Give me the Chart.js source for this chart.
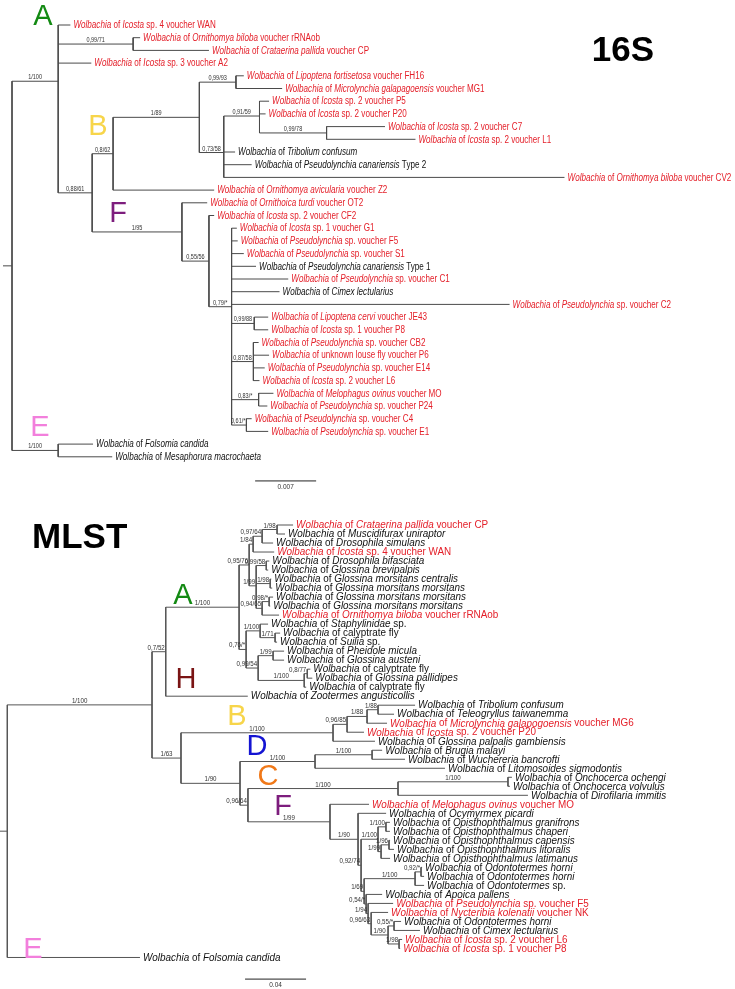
<!DOCTYPE html>
<html>
<head>
<meta charset="utf-8">
<script src="https://cdn.jsdelivr.net/npm/chart.js@4.4.1/dist/chart.umd.min.js"></script>
<style>
  html, body { margin: 0; padding: 0; background: #fff; }
  .panel { position: absolute; left: 0; width: 735px; }
</style>
</head>
<body>
<div class="panel" style="top:0;height:495px"><canvas id="c16" width="735" height="495"></canvas></div>
<div class="panel" style="top:495px;height:494px"><canvas id="cMlst" width="735" height="494"></canvas></div>
<script>
// ---- 16S tree: internal nodes [name, parent, branch length, support]
const nodes16S = [
  ['root', null, 0, ''],
  ['A', 'root', 0.0053, '1/100'],
  ['Aob', 'A', 0.0086, '0,99/71'],
  ['BF', 'A', 0.0039, '0,88/61'],
  ['B', 'BF', 0.0024, '0,8/62'],
  ['B1', 'B', 0.0099, '1/89'],
  ['B2', 'B1', 0.0042, '0,99/93'],
  ['B3', 'B1', 0.0028, '0,73/58'],
  ['B4', 'B3', 0.0041, '0,91/59'],
  ['B5', 'B4', 0.0077, '0,99/78'],
  ['F', 'BF', 0.0103, '1/95'],
  ['F1', 'F', 0.0031, '0,55/56'],
  ['F2', 'F1', 0.0026, '0,79/*'],
  ['F3', 'F2', 0.0026, '0,99/88'],
  ['F4', 'F2', 0.0025, '0,87/58'],
  ['F5', 'F2', 0.0031, '0,83/*'],
  ['F6', 'F2', 0.0017, '0,61/*'],
  ['E', 'root', 0.0053, '1/100']
];
// tips [label (*italic*), parent, branch length, new sequence]
const tips16S = [
  ['*Wolbachia* of *Icosta* sp. 4 voucher WAN', 'A', 0.0014, 1],
  ['*Wolbachia* of *Ornithomya biloba* voucher rRNAob', 'Aob', 0.0008, 1],
  ['*Wolbachia* of *Crataerina pallida* voucher CP', 'Aob', 0.0087, 1],
  ['*Wolbachia* of *Icosta* sp. 3 voucher A2', 'A', 0.0038, 1],
  ['*Wolbachia* of *Lipoptena fortisetosa* voucher FH16', 'B2', 0.0009, 1],
  ['*Wolbachia* of *Microlynchia galapagoensis* voucher MG1', 'B2', 0.0053, 1],
  ['*Wolbachia* of *Icosta* sp. 2 voucher P5', 'B4', 0.0011, 1],
  ['*Wolbachia* of *Icosta* sp. 2 voucher P20', 'B4', 0.0007, 1],
  ['*Wolbachia* of *Icosta* sp. 2 voucher C7', 'B5', 0.0067, 1],
  ['*Wolbachia* of *Icosta* sp. 2 voucher L1', 'B5', 0.0102, 1],
  ['*Wolbachia* of *Tribolium confusum*', 'B3', 0.0013, 0],
  ['*Wolbachia* of *Pseudolynchia canariensis* Type 2', 'B3', 0.0032, 0],
  ['*Wolbachia* of *Ornithomya biloba* voucher CV2', 'B3', 0.0391, 1],
  ['*Wolbachia* of *Ornithomya avicularia* voucher Z2', 'B', 0.0116, 1],
  ['*Wolbachia* of *Ornithoica turdi* voucher OT2', 'F', 0.0029, 1],
  ['*Wolbachia* of *Icosta* sp. 2 voucher CF2', 'F1', 0.0006, 1],
  ['*Wolbachia* of *Icosta* sp. 1 voucher G1', 'F2', 0.0006, 1],
  ['*Wolbachia* of *Pseudolynchia* sp. voucher F5', 'F2', 0.0007, 1],
  ['*Wolbachia* of *Pseudolynchia* sp. voucher S1', 'F2', 0.0014, 1],
  ['*Wolbachia* of *Pseudolynchia canariensis* Type 1', 'F2', 0.0028, 0],
  ['*Wolbachia* of *Pseudolynchia* sp. voucher C1', 'F2', 0.0065, 1],
  ['*Wolbachia* of *Cimex lectularius*', 'F2', 0.0055, 0],
  ['*Wolbachia* of *Pseudolynchia* sp. voucher C2', 'F2', 0.0319, 1],
  ['*Wolbachia* of *Lipoptena cervi* voucher JE43', 'F3', 0.0016, 1],
  ['*Wolbachia* of *Icosta* sp. 1 voucher P8', 'F3', 0.0016, 1],
  ['*Wolbachia* of *Pseudolynchia* sp. voucher CB2', 'F4', 0.0006, 1],
  ['*Wolbachia* of unknown louse fly voucher P6', 'F4', 0.0018, 1],
  ['*Wolbachia* of *Pseudolynchia* sp. voucher E14', 'F4', 0.0013, 1],
  ['*Wolbachia* of *Icosta* sp. 2 voucher L6', 'F4', 0.0007, 1],
  ['*Wolbachia* of *Melophagus ovinus* voucher MO', 'F5', 0.0017, 1],
  ['*Wolbachia* of *Pseudolynchia* sp. voucher P24', 'F5', 0.0010, 1],
  ['*Wolbachia* of *Pseudolynchia* sp. voucher C4', 'F6', 0.0006, 1],
  ['*Wolbachia* of *Pseudolynchia* sp. voucher E1', 'F6', 0.0025, 1],
  ['*Wolbachia* of *Folsomia candida*', 'E', 0.0040, 0],
  ['*Wolbachia* of *Mesaphorura macrochaeta*', 'E', 0.0062, 0]
];
const clades16S = [['A', '#138a13'], ['B', '#f7d54a'], ['F', '#7d1d7d'], ['E', '#f27fdc']];
const scaleBar16S = [0.007, '0.007'];

// ---- MLST tree
const nodesMlst = [
  ['root', null, 0, ''],
  ['X1', 'root', 0.0949, '1/100'],
  ['AH', 'X1', 0.0090, '0,7/52'],
  ['A', 'AH', 0.0481, '1/100'],
  ['A1', 'A', 0.0066, '0,95/76'],
  ['J', 'A1', 0.0026, '1/84'],
  ['I', 'J', 0.0059, '0,97/64'],
  ['H', 'I', 0.0098, '1/98'],
  ['N', 'A1', 0.0046, '1/99'],
  ['K', 'N', 0.0066, '0,99/58'],
  ['M1', 'N', 0.0092, '1/98'],
  ['Q', 'N', 0.0039, '0,94/65'],
  ['M2', 'Q', 0.0046, '0,98/*'],
  ['A2', 'A', 0.0046, '0,76/*'],
  ['St', 'A2', 0.0092, '1/100'],
  ['St1', 'St', 0.0098, '1/71'],
  ['Ps', 'A2', 0.0079, '0,99/54'],
  ['Ph', 'Ps', 0.0098, '1/99'],
  ['Ca', 'Ps', 0.0302, '1/100'],
  ['Ca1', 'Ca', 0.0020, '0,8/77'],
  ['BDCF', 'X1', 0.0190, '1/63'],
  ['B', 'BDCF', 0.0997, '1/100'],
  ['B1', 'B', 0.0092, '0,96/85'],
  ['B2', 'B1', 0.0131, '1/88'],
  ['B3', 'B2', 0.0072, '1/88'],
  ['DCF', 'BDCF', 0.0387, '1/90'],
  ['D', 'DCF', 0.0492, '1/100'],
  ['D1', 'D', 0.0374, '1/100'],
  ['CF', 'DCF', 0.0052, '0,96/64'],
  ['C', 'CF', 0.0984, '1/100'],
  ['C1', 'C', 0.0721, '1/100'],
  ['F', 'CF', 0.0538, '1/99'],
  ['F1', 'F', 0.0184, '1/90'],
  ['F2', 'F1', 0.0020, '0,92/74'],
  ['O', 'F2', 0.0111, '1/100'],
  ['O1', 'O', 0.0052, '1/100'],
  ['Q2', 'O', 0.0020, '1/99'],
  ['P', 'Q2', 0.0052, '1/96'],
  ['T', 'F2', 0.0020, '1/69'],
  ['R', 'T', 0.0334, '1/100'],
  ['S', 'R', 0.0039, '0,92/*'],
  ['Fa', 'T', 0.0013, '0,54/*'],
  ['Fe', 'Fa', 0.0013, '1/94'],
  ['Fd', 'Fe', 0.0020, '0,96/63'],
  ['Fc', 'Fd', 0.0111, '1/90'],
  ['Fh', 'Fc', 0.0039, '0,55/*'],
  ['Fb', 'Fc', 0.0072, '1/98']
];
const tipsMlst = [
  ['*Wolbachia* of *Crataerina pallida* voucher CP', 'H', 0.0105, 1],
  ['*Wolbachia* of *Muscidifurax uniraptor*', 'H', 0.0052, 0],
  ['*Wolbachia* of *Drosophila simulans*', 'I', 0.0072, 0],
  ['*Wolbachia* of *Icosta* sp. 4 voucher WAN', 'J', 0.0138, 1],
  ['*Wolbachia* of *Drosophila bifasciata*', 'K', 0.0020, 0],
  ['*Wolbachia* of *Glossina brevipalpis*', 'K', 0.0013, 0],
  ['*Wolbachia* of *Glossina morsitans centralis*', 'M1', 0.0007, 0],
  ['*Wolbachia* of *Glossina morsitans morsitans*', 'M1', 0.0013, 0],
  ['*Wolbachia* of *Glossina morsitans morsitans*', 'M2', 0.0026, 0],
  ['*Wolbachia* of *Glossina morsitans morsitans*', 'M2', 0.0007, 0],
  ['*Wolbachia* of *Ornithomya biloba* voucher rRNAob', 'Q', 0.0111, 1],
  ['*Wolbachia* of *Staphylinidae* sp.', 'St', 0.0052, 0],
  ['*Wolbachia* of calyptrate fly', 'St1', 0.0033, 0],
  ['*Wolbachia* of *Suilia* sp.', 'St1', 0.0013, 0],
  ['*Wolbachia* of *Pheidole micula*', 'Ph', 0.0072, 0],
  ['*Wolbachia* of *Glossina austeni*', 'Ph', 0.0072, 0],
  ['*Wolbachia* of calyptrate fly', 'Ca1', 0.0020, 0],
  ['*Wolbachia* of *Glossina pallidipes*', 'Ca1', 0.0033, 0],
  ['*Wolbachia* of calyptrate fly', 'Ca', 0.0013, 0],
  ['*Wolbachia* of *Zootermes angusticollis*', 'AH', 0.0538, 0],
  ['*Wolbachia* of *Tribolium confusum*', 'B3', 0.0243, 0],
  ['*Wolbachia* of *Teleogryllus taiwanemma*', 'B3', 0.0105, 0],
  ['*Wolbachia* of *Microlynchia galapogoensis* voucher MG6', 'B2', 0.0131, 1],
  ['*Wolbachia* of *Icosta* sp. 2 voucher P20', 'B1', 0.0111, 1],
  ['*Wolbachia* of *Glossina palpalis gambiensis*', 'B', 0.0275, 0],
  ['*Wolbachia* of *Brugia malayi*', 'D1', 0.0066, 0],
  ['*Wolbachia* of *Wuchereria bancrofti*', 'D1', 0.0216, 0],
  ['*Wolbachia* of *Litomosoides sigmodontis*', 'D', 0.0852, 0],
  ['*Wolbachia* of *Onchocerca ochengi*', 'C1', 0.0026, 0],
  ['*Wolbachia* of *Onchocerca volvulus*', 'C1', 0.0013, 0],
  ['*Wolbachia* of *Dirofilaria immitis*', 'C', 0.0852, 0],
  ['*Wolbachia* of *Melophagus ovinus* voucher MO', 'F', 0.0256, 1],
  ['*Wolbachia* of *Ocymyrmex picardi*', 'F1', 0.0184, 0],
  ['*Wolbachia* of *Opisthophthalmus granifrons*', 'O1', 0.0026, 0],
  ['*Wolbachia* of *Opisthophthalmus chaperi*', 'O1', 0.0026, 0],
  ['*Wolbachia* of *Opisthophthalmus capensis*', 'P', 0.0007, 0],
  ['*Wolbachia* of *Opisthophthalmus litoralis*', 'P', 0.0033, 0],
  ['*Wolbachia* of *Opisthophthalmus latimanus*', 'Q2', 0.0059, 0],
  ['*Wolbachia* of *Odontotermes horni*', 'S', 0.0007, 0],
  ['*Wolbachia* of *Odontotermes horni*', 'S', 0.0020, 0],
  ['*Wolbachia* of *Odontotermes* sp.', 'R', 0.0059, 0],
  ['*Wolbachia* of *Apoica pallens*', 'Fa', 0.0105, 0],
  ['*Wolbachia* of *Pseudolynchia* sp. voucher F5', 'Fe', 0.0164, 1],
  ['*Wolbachia* of *Nycteribia kolenatii* voucher NK', 'Fd', 0.0111, 1],
  ['*Wolbachia* of *Odontotermes horni*', 'Fh', 0.0046, 0],
  ['*Wolbachia* of *Cimex lectularius*', 'Fh', 0.0170, 0],
  ['*Wolbachia* of *Icosta* sp. 2 voucher L6', 'Fb', 0.0020, 1],
  ['*Wolbachia* of *Icosta* sp. 1 voucher P8', 'Fb', 0.0007, 1],
  ['*Wolbachia* of *Folsomia candida*', 'root', 0.0870, 0]
];
const cladesMlst = [['A', '#138a13'], ['H', '#7a1414'], ['B', '#f7d54a'], ['D', '#1414d2'],
                    ['C', '#f07818'], ['F', '#7d1d7d'], ['E', '#f27fdc']];
const scaleBarMlst = [0.04, '0.04'];

const RED = '#e4202a';
const FONT = '"Liberation Sans", Arial, Helvetica, sans-serif';

// ---- tree layout: x = distance from root, y = tip index (internal node = mean of children)
function layoutTree(nodes, tips) {
  const info = {};
  nodes.forEach(([name, parent, len, sup]) => { info[name] = { name, parent, len, sup, kids: [] }; });
  nodes.forEach(([name, parent]) => { if (parent) info[parent].kids.push(info[name]); });
  nodes.forEach(([name, parent, len]) => { info[name].x = parent ? info[parent].x + len : 0; });
  const tipList = tips.map(([label, parent, len, isNew], i) => {
    const t = { label, parent, isNew, y: i, x: info[parent].x + len, tip: true };
    info[parent].kids.push(t);
    return t;
  });
  function yOf(n) {
    if (n.y === undefined) {
      const ys = n.kids.map(yOf);
      n.y = ys.reduce((a, b) => a + b, 0) / ys.length;
    }
    return n.y;
  }
  yOf(info.root);
  const segs = [];
  const add = (x1, y1, x2, y2) => segs.push({ x: x1, y: y1 }, { x: x2, y: y2 }, { x: NaN, y: NaN });
  Object.values(info).forEach(n => {
    const ys = n.kids.map(k => k.y);
    add(n.x, Math.min(...ys), n.x, Math.max(...ys));
    if (n.parent) add(info[n.parent].x, n.y, n.x, n.y);
  });
  tipList.forEach(t => add(info[t.parent].x, t.y, t.x, t.y));
  return { info, tips: tipList, segs };
}

function drawRich(ctx, text, x, y, size, sx, color) {
  ctx.save();
  ctx.translate(x, y);
  ctx.scale(sx, 1);
  ctx.fillStyle = color;
  ctx.textBaseline = 'middle';
  ctx.textAlign = 'left';
  let cx = 0;
  text.split('*').forEach((part, i) => {
    if (!part) return;
    ctx.font = (i % 2 ? 'italic ' : '') + size + 'px ' + FONT;
    ctx.fillText(part, cx, 0);
    cx += ctx.measureText(part).width;
  });
  ctx.restore();
}

const treeText = {
  id: 'treeText',
  afterDatasetsDraw(chart, args, o) {
    const { ctx } = chart;
    const xs = chart.scales.x, ys = chart.scales.y;
    const tree = o.tree;
    tree.tips.forEach(t => {
      drawRich(ctx, t.label, xs.getPixelForValue(t.x) + 3, ys.getPixelForValue(t.y) + 0.5,
        o.tipSize, o.tipStretch, t.isNew ? RED : '#111');
    });
    // support values above the branches
    ctx.fillStyle = '#333';
    ctx.textBaseline = 'alphabetic';
    ctx.textAlign = 'center';
    Object.values(tree.info).forEach(n => {
      if (!n.parent || !n.sup) return;
      const x0 = xs.getPixelForValue(tree.info[n.parent].x), x1 = xs.getPixelForValue(n.x);
      ctx.save();
      ctx.font = o.supSize + 'px ' + FONT;
      const w = ctx.measureText(n.sup).width * o.supStretch;
      let cx = (x0 + x1) / 2;
      if (cx + w / 2 > x1 - 1) cx = x1 - 1 - w / 2;
      ctx.translate(cx, ys.getPixelForValue(n.y) - 2);
      ctx.scale(o.supStretch, 1);
      ctx.fillText(n.sup, 0, 0);
      ctx.restore();
    });
    // scale bar label
    const sb = o.scaleBar;
    ctx.font = o.supSize + 'px ' + FONT;
    ctx.textBaseline = 'top';
    ctx.fillText(sb.label, xs.getPixelForValue(sb.x + sb.len / 2), ys.getPixelForValue(sb.y) + 3);
    // clade letters
    ctx.textBaseline = 'middle';
    ctx.font = '29px ' + FONT;
    o.clades.forEach(([letter, color], i) => {
      const [px, py] = o.letterPos[i];
      ctx.fillStyle = color;
      ctx.fillText(letter, px, py);
    });
    // title
    ctx.fillStyle = '#000';
    ctx.font = 'bold 35px ' + FONT;
    ctx.textAlign = o.title.align;
    ctx.fillText(o.title.text, o.title.x, o.title.y);
  }
};

function makeTreeChart(canvasId, nodes, tips, bar, clades, v) {
  const tree = layoutTree(nodes, tips);
  const W = 735, H = v.height;
  const unitPx = v.barPx / bar[0];
  const xMin = -v.rootPx / unitPx, xMax = xMin + W / unitPx;
  const yMin = -v.firstTipPx / v.tipStep, yMax = yMin + H / v.tipStep;
  const stub = 9 / unitPx;
  const root = tree.info.root;
  const segs = tree.segs.concat([{ x: -stub, y: root.y }, { x: 0, y: root.y }, { x: NaN, y: NaN }]);
  const scaleBar = { x: v.barStart, len: bar[0], y: tips.length - 1 + v.barGap, label: bar[1] };
  new Chart(document.getElementById(canvasId), {
    type: 'scatter',
    data: {
      datasets: [
        { data: segs, showLine: true, spanGaps: false, borderColor: v.lineColor, borderWidth: 1,
          pointRadius: 0, tension: 0 },
        { data: [{ x: scaleBar.x, y: scaleBar.y }, { x: scaleBar.x + scaleBar.len, y: scaleBar.y }],
          showLine: true, borderColor: '#222', borderWidth: 1, pointRadius: 0 }
      ]
    },
    options: {
      responsive: false,
      animation: false,
      events: [],
      layout: { padding: 0 },
      scales: {
        x: { type: 'linear', display: false, min: xMin, max: xMax },
        y: { type: 'linear', display: false, reverse: true, min: yMin, max: yMax }
      },
      plugins: {
        legend: { display: false },
        tooltip: { enabled: false },
        treeText: {
          tree, clades, scaleBar,
          letterPos: v.letterPos, title: v.title,
          tipSize: v.tipSize, tipStretch: v.tipStretch,
          supSize: v.supSize, supStretch: v.supStretch
        }
      }
    },
    plugins: [treeText]
  });
}

makeTreeChart('c16', nodes16S, tips16S, scaleBar16S, clades16S, {
  height: 495, rootPx: 12, barPx: 61, firstTipPx: 25, tipStep: 12.7,
  barStart: 0.0279, barGap: 1.9, lineColor: '#4a4a4a',
  tipSize: 10, tipStretch: 0.81, supSize: 6.5, supStretch: 0.85,
  letterPos: [[43, 17], [98, 127], [118, 214], [40, 428]],
  title: { text: '16S', x: 623, y: 51, align: 'center' }
});

makeTreeChart('cMlst', nodesMlst, tipsMlst, scaleBarMlst, cladesMlst, {
  height: 494, rootPx: 7.3, barPx: 61, firstTipPx: 30, tipStep: 9.01,
  barStart: 0.1559, barGap: 2.4, lineColor: '#555',
  tipSize: 10, tipStretch: 0.99, supSize: 6.5, supStretch: 0.95,
  letterPos: [[183, 101], [186, 185], [237, 222], [257, 252], [268, 282], [283, 312], [33, 455]],
  title: { text: 'MLST', x: 32, y: 43, align: 'left' }
});
</script>
</body>
</html>
